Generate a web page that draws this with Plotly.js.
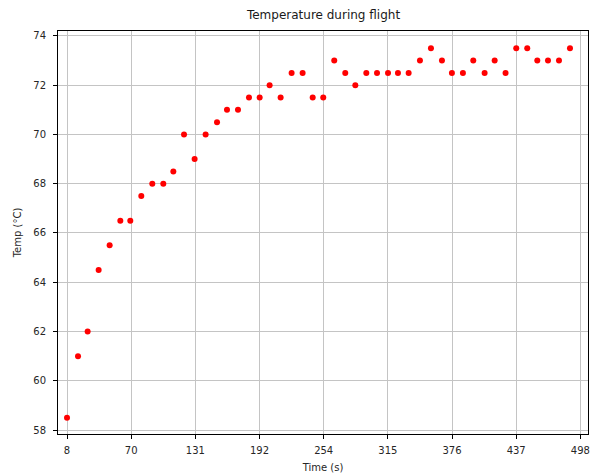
<!DOCTYPE html>
<html>
<head>
<meta charset="utf-8">
<script src="https://cdn.plot.ly/plotly-3.0.1.min.js"></script>
<style>
  html, body { margin: 0; padding: 0; background: #ffffff; }
  #chart { width: 592px; height: 475px; }
</style>
</head>
<body>
<div id="chart"></div>
<script>
// Time of each reading (s)
const timeSeconds = [
  8, 18.5, 27.7, 38.2, 48.7, 58.9, 68.4, 78.9, 89.4, 99.9,
  109.5, 119.7, 129.8, 140.3, 151.2, 160.7, 171.2, 181.7, 191.9, 201.4,
  211.9, 222.4, 232.9, 242.5, 252.6, 263.1, 273.6, 283.2, 293.7, 303.9,
  314.4, 323.9, 334.1, 344.9, 355.4, 365.9, 375.4, 385.9, 395.8, 406.6,
  416.2, 426.6, 436.8, 447.3, 456.9, 467.1, 477.6, 488.1
];
// Temperature readings (°C)
const temperature = [
  58.5, 61, 62, 64.5, 65.5, 66.5, 66.5, 67.5, 68, 68,
  68.5, 70, 69, 70, 70.5, 71, 71, 71.5, 71.5, 72,
  71.5, 72.5, 72.5, 71.5, 71.5, 73, 72.5, 72, 72.5, 72.5,
  72.5, 72.5, 72.5, 73, 73.5, 73, 72.5, 72.5, 73, 72.5,
  73, 72.5, 73.5, 73.5, 73, 73, 73, 73.5
];
// x tick positions and their labels
const xTickVals = [8, 69.25, 130.5, 191.75, 253, 314.25, 375.5, 436.75, 498];
const xTickLabels = ["8", "70", "131", "192", "254", "315", "376", "437", "498"];
const yTickVals = [58, 60, 62, 64, 66, 68, 70, 72, 74];

const trace = {
  x: timeSeconds,
  y: temperature,
  type: 'scatter',
  mode: 'markers',
  marker: { color: '#ff0000', size: 6 },
  hoverinfo: 'skip'
};

const fontFamily = 'DejaVu Sans, sans-serif';

const layout = {
  width: 592,
  height: 475,
  paper_bgcolor: '#ffffff',
  plot_bgcolor: '#ffffff',
  margin: { l: 58.3, r: 3.7, t: 31, b: 41, pad: 0 },
  showlegend: false,
  font: { family: fontFamily, size: 10, color: '#262626' },
  title: {
    text: 'Temperature during flight',
    font: { family: fontFamily, size: 12, color: '#1a1a1a' },
    x: 0.5465, xanchor: 'center',
    y: 0.968, yanchor: 'middle'
  },
  xaxis: {
    range: [-0.6, 505.3],
    tickmode: 'array',
    tickvals: xTickVals,
    ticktext: xTickLabels,
    ticks: 'outside',
    ticklen: 4,
    tickwidth: 1,
    tickcolor: '#000000',
    ticklabelstandoff: 3,
    showgrid: true,
    gridcolor: '#c4c4c4',
    gridwidth: 1,
    zeroline: false,
    showline: true,
    linecolor: '#000000',
    linewidth: 1,
    mirror: true,
    tickfont: { family: fontFamily, size: 10, color: '#262626' },
    title: { text: 'Time (s)', font: { family: fontFamily, size: 10, color: '#262626' }, standoff: 8 }
  },
  yaxis: {
    range: [57.84, 74.2],
    tickmode: 'array',
    tickvals: yTickVals,
    ticks: 'outside',
    ticklen: 4,
    tickwidth: 1,
    tickcolor: '#000000',
    ticklabelstandoff: 5,
    showgrid: true,
    gridcolor: '#c4c4c4',
    gridwidth: 1,
    zeroline: false,
    showline: true,
    linecolor: '#000000',
    linewidth: 1,
    mirror: true,
    tickfont: { family: fontFamily, size: 10, color: '#262626' },
    title: { text: 'Temp (°C)', font: { family: fontFamily, size: 10, color: '#262626' }, standoff: 9 }
  }
};

Plotly.newPlot('chart', [trace], layout, { staticPlot: true, displayModeBar: false });
</script>
</body>
</html>
